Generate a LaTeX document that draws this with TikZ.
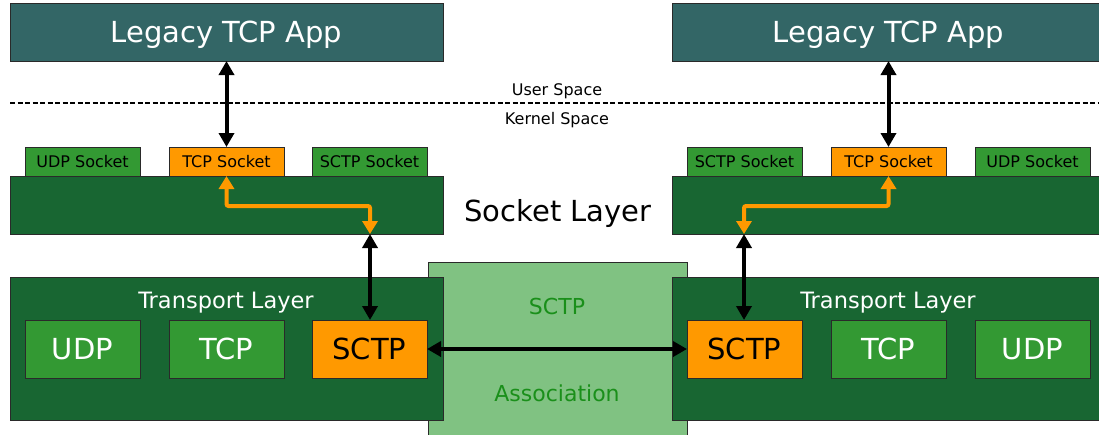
\documentclass[tikz,border=0pt]{standalone}
\usepackage{fontspec}
\setmainfont{DejaVu Sans}
\usetikzlibrary{arrows.meta}
\definecolor{appc}{HTML}{336666}
\definecolor{dkg}{HTML}{186632}
\definecolor{mdg}{HTML}{339933}
\definecolor{org}{HTML}{FF9900}
\definecolor{ltg}{HTML}{80C282}
\definecolor{txg}{HTML}{1A8F1A}
\definecolor{bord}{HTML}{2A2A2A}
\tikzset{
  base/.style={draw=bord, line width=1pt, outer sep=0pt, inner sep=0pt, anchor=north west,
    text depth=0pt, align=center},
  big/.style={font=\fontsize{29}{29}\selectfont, text height=21.2pt, text depth=0pt},
  small/.style={font=\fontsize{16}{16}\selectfont, text height=11.7pt, text depth=0pt},
  mid/.style={font=\fontsize{22.5}{22.5}\selectfont, text height=16.4pt, text depth=0pt},
  assocf/.style={font=\fontsize{22}{22}\selectfont, text height=16pt, text depth=0pt},
  appbox/.style={base, big, fill=appc, text=white, minimum width=433pt, minimum height=58pt},
  sockbox/.style={base, small, fill=mdg, text=black, minimum width=115pt, minimum height=29pt},
  sockorg/.style={sockbox, fill=org},
  layerbox/.style={base, fill=dkg, minimum width=433pt, minimum height=58pt},
  transbox/.style={base, fill=dkg, minimum width=433pt, minimum height=143pt},
  protbox/.style={base, big, fill=mdg, text=white, minimum width=115pt, minimum height=58pt},
  protorg/.style={protbox, fill=org, text=black},
  assocbox/.style={base, fill=ltg, minimum width=259pt, minimum height=190pt},
  lbl/.style={inner sep=0pt},
  blackarr/.style={line width=4pt, {Triangle[width=15pt,length=14pt]}-{Triangle[width=15pt,length=14pt]}},
  orgarr/.style={line width=4pt, draw=org, rounded corners=2pt, {Triangle[width=15pt,length=13pt]}-{Triangle[width=15pt,length=13pt]}},
}
\begin{document}
\begin{tikzpicture}[x=1pt,y=-1pt]
\useasboundingbox (0,0) rectangle (1099,434);
\clip (0,0) rectangle (1099,434);
% middle association box (behind)
\node[assocbox] (assoc) at (428,262) {};
% apps
\node[appbox] (appL) at (10,3) {Legacy TCP App};
\node[appbox] (appR) at (672,3) {Legacy TCP App};
% user / kernel
\draw[line width=2pt, dash pattern=on 5pt off 2.5pt] (10,103) -- (1099,103);
\node[lbl, small] (user) at (557,90) {User Space};
\node[lbl, small] (kern) at (557,119) {Kernel Space};
% socket layer boxes
\node[layerbox] (slL) at (10,176) {};
\node[layerbox] (slR) at (672,176) {};
\node[lbl, big] (sltxt) at (558,211) {Socket Layer};
% sockets
\node[sockbox] (udpsL) at (25,147) {UDP Socket};
\node[sockorg] (tcpsL) at (169,147) {TCP Socket};
\node[sockbox] (sctpsL) at (312,147) {SCTP Socket};
\node[sockbox] (sctpsR) at (687,147) {SCTP Socket};
\node[sockorg] (tcpsR) at (831,147) {TCP Socket};
\node[sockbox] (udpsR) at (975,147) {UDP Socket};
% transport
\node[transbox] (trL) at (10,277) {};
\node[transbox] (trR) at (672,277) {};
\node[lbl, mid, text=white] (trtL) at (226,300) {Transport Layer};
\node[lbl, mid, text=white] (trtR) at (888,300) {Transport Layer};
\node[protbox] (udpL) at (25,320) {UDP};
\node[protbox] (tcpL) at (169,320) {TCP};
\node[protorg] (sctpL) at (312,320) {SCTP};
\node[protorg] (sctpR) at (687,320) {SCTP};
\node[protbox] (tcpR) at (831,320) {TCP};
\node[protbox] (udpR) at (975,320) {UDP};
% association labels
\node[lbl, assocf, text=txg] (as1) at (557,306) {SCTP};
\node[lbl, assocf, text=txg] (as2) at (557,393) {Association};
% coordinates on layer bottoms
\coordinate (slLb) at (370,234);
\coordinate (slRb) at (744,234);
% black arrows
\draw[blackarr] (appL.south) -- (tcpsL.north);
\draw[blackarr] (appR.south) -- (tcpsR.north);
\draw[blackarr] (slLb) -- (sctpL.north -| slLb);
\draw[blackarr] (slRb) -- (sctpR.north -| slRb);
\draw[blackarr] (sctpL.east) -- (sctpR.west);
% orange arrows
\draw[orgarr] (tcpsL.south) -- ++(0,30) -| (slLb);
\draw[orgarr] (tcpsR.south) -- ++(0,30) -| (slRb);
\end{tikzpicture}
\end{document}
